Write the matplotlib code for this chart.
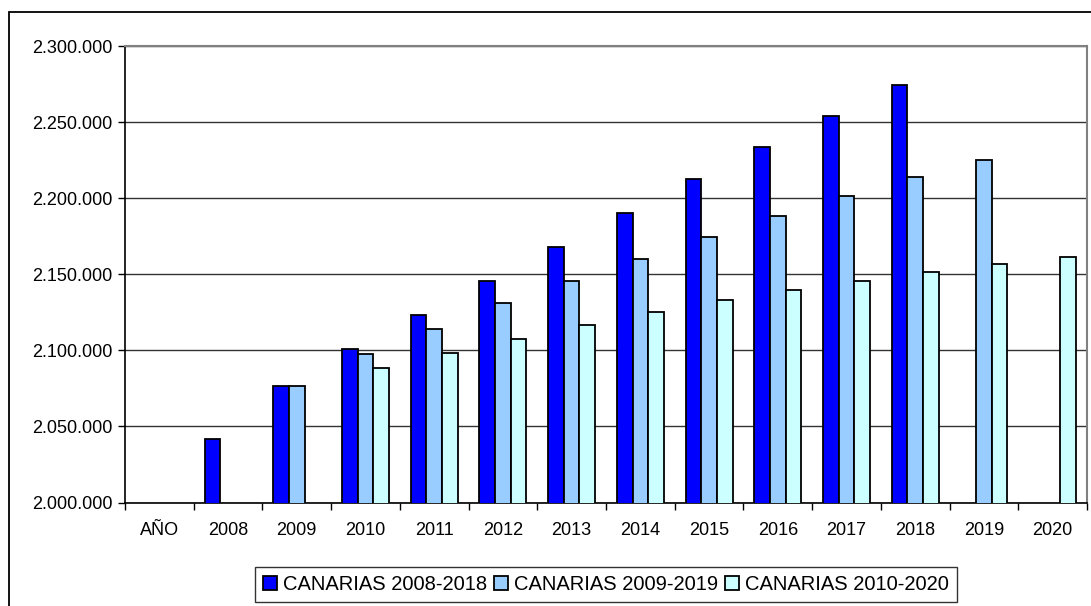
import matplotlib
matplotlib.use("Agg")
import matplotlib.pyplot as plt
from matplotlib.patches import Rectangle
from matplotlib.ticker import FuncFormatter, FixedLocator
import numpy as np

categories = ["AÑO", "2008", "2009", "2010", "2011", "2012", "2013", "2014",
              "2015", "2016", "2017", "2018", "2019", "2020"]
series_names = ["CANARIAS 2008-2018", "CANARIAS 2009-2019", "CANARIAS 2010-2020"]
s_2008_2018 = [None, 2041700, 2076300, 2100800, 2123200, 2145500, 2167900, 2190200,
               2212800, 2233800, 2253900, 2274300, None, None]
s_2009_2019 = [None, None, 2076300, 2097600, 2114200, 2131300, 2145700, 2160000,
               2174700, 2188200, 2201400, 2213700, 2225000, None]
s_2010_2020 = [None, None, None, 2088600, 2098400, 2107600, 2116400, 2125400,
               2133300, 2139900, 2145500, 2151200, 2156900, 2161100]
colors = ["#0000FF", "#99CCFF", "#CCFFFF"]

plt.rcParams['font.family'] = ['Liberation Sans', 'DejaVu Sans']

fig = plt.figure(figsize=(10.91, 6.06), dpi=100)
ax = fig.add_axes([125/1091, 1-502.5/606, (1087-125)/1091, (502.5-46)/606])

x = np.arange(len(categories))
w = 0.228
handles = []
for i, (vals, name, c) in enumerate(zip([s_2008_2018, s_2009_2019, s_2010_2020], series_names, colors)):
    xs = [xi + (i-1)*w for xi, v in zip(x, vals) if v is not None]
    ys = [v for v in vals if v is not None]
    b = ax.bar(xs, ys, width=w, color=c, edgecolor="black", linewidth=1.3, label=name, zorder=3)
    handles.append(b)

ax.set_xlim(-0.5, len(categories)-0.5)
ax.set_ylim(2000000, 2300000)
ax.set_yticks(np.arange(2000000, 2300001, 50000))
ax.yaxis.set_major_formatter(FuncFormatter(lambda v, p: f"{int(v):,}".replace(",", ".")))
ax.grid(axis='y', color="#333333", linewidth=1.0, zorder=0)
ax.set_axisbelow(True)

ax.set_xticks(x)
ax.set_xticklabels(categories)
ax.xaxis.set_minor_locator(FixedLocator(np.arange(-0.5, len(categories), 1.0)))
ax.tick_params(axis='x', which='major', length=0, pad=14, labelsize=13)
ax.tick_params(axis='x', which='minor', length=5, direction='out', width=1)
ax.tick_params(axis='y', length=5, direction='out', width=1, labelsize=13, pad=4)

for s in ['left', 'bottom']:
    ax.spines[s].set_color("black")
    ax.spines[s].set_linewidth(1.2)
ax.spines['top'].set_color("#808080")
ax.spines['right'].set_color("#808080")
ax.spines['top'].set_linewidth(1.5)
ax.spines['right'].set_linewidth(1.5)

leg = fig.legend(handles=handles, labels=series_names, loc='center',
                 bbox_to_anchor=(606/1091, 1-584.5/606), ncol=3, fontsize=14.5,
                 frameon=True, fancybox=False, edgecolor="black", handlelength=0.7,
                 handleheight=0.7, handletextpad=0.3, columnspacing=0.35,
                 borderpad=0.4, borderaxespad=0)
leg.get_frame().set_linewidth(1.0)

fig.patches.append(Rectangle((9/1091, -0.1), 1.2, 1-12/606+0.1, transform=fig.transFigure,
                             fill=False, edgecolor="black", linewidth=1.3))

fig.savefig("out.png", dpi=100)
